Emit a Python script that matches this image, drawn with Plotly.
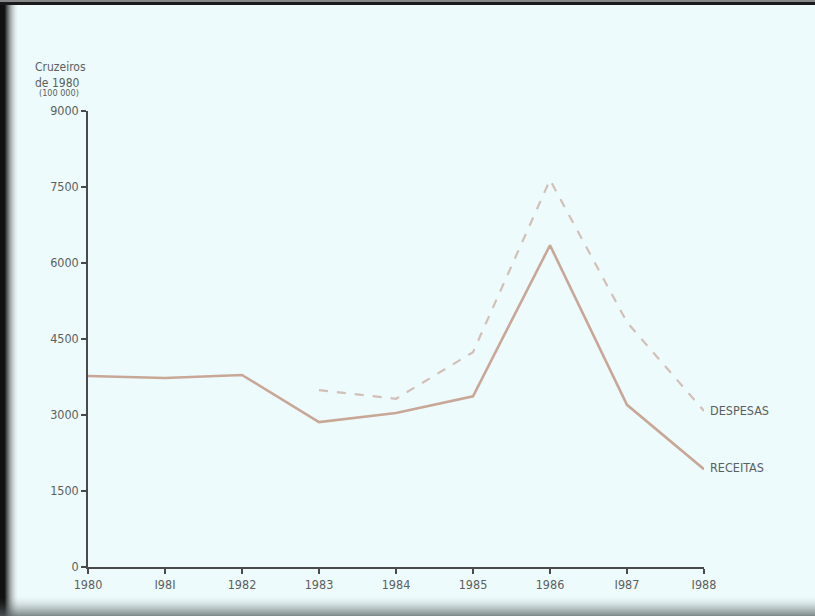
import plotly.graph_objects as go

years = [1980, 1981, 1982, 1983, 1984, 1985, 1986, 1987, 1988]
receitas = [3770, 3730, 3790, 2860, 3040, 3370, 6350, 3200, 1930]
despesas_years = [1983, 1984, 1985, 1986, 1987, 1988]
despesas = [3490, 3320, 4240, 7640, 4830, 3080]
y_ticks = [0, 1500, 3000, 4500, 6000, 7500, 9000]
x_ticks = years
x_labels = ["1980", "I98I", "1982", "1983", "1984", "1985", "1986", "I987", "I988"]

W, H = 815, 616
ML, MR, MT, MB = 88, 111, 111, 49
PW, PH = W - ML - MR, H - MT - MB

def px(x):
    return (x - ML) / PW

def py(y):
    return 1 - (y - MT) / PH

TXT = "#5a5f60"
FONT = "Liberation Sans Narrow, Arial Narrow, DejaVu Sans Condensed, sans-serif"

fig = go.Figure()
fig.add_trace(go.Scatter(x=years, y=receitas, mode="lines",
                         line=dict(color="#c9a797", width=2.6), name="RECEITAS"))
fig.add_trace(go.Scatter(x=despesas_years, y=despesas, mode="lines",
                         line=dict(color="#d3bfb6", width=2.2, dash="dash"), name="DESPESAS"))

shapes = []
# left shadow gradient
for i in range(14):
    g = int(40 + i * 15)
    shapes.append(dict(type="rect", xref="paper", yref="paper",
                       x0=px(5 + i), x1=px(6 + i), y0=py(H), y1=py(0),
                       fillcolor=f"rgba({g},{g+5},{g+5},{max(0.05, 1 - i/14):.2f})",
                       line=dict(width=0), layer="below"))
shapes.append(dict(type="rect", xref="paper", yref="paper",
                   x0=px(0), x1=px(5), y0=py(H), y1=py(0),
                   fillcolor="#111111", line=dict(width=0), layer="below"))
# bottom shadow gradient
for i in range(20):
    a = (i / 20) ** 1.5 * 0.8
    shapes.append(dict(type="rect", xref="paper", yref="paper",
                       x0=px(0), x1=px(W), y0=py(596 + i + 1), y1=py(596 + i),
                       fillcolor=f"rgba(90,100,100,{a:.2f})",
                       line=dict(width=0), layer="below"))
# top border
shapes.append(dict(type="rect", xref="paper", yref="paper",
                   x0=px(0), x1=px(W), y0=py(5), y1=py(0),
                   fillcolor="#1a1a1a", line=dict(width=0), layer="below"))
shapes.append(dict(type="rect", xref="paper", yref="paper",
                   x0=px(0), x1=px(W), y0=py(2), y1=py(0),
                   fillcolor="#888888", line=dict(width=0), layer="below"))

annotations = [
    dict(text="Cruzeiros<br>de 1980", xref="paper", yref="paper",
         x=px(33), y=py(58), xanchor="left", yanchor="top", showarrow=False, align="left",
         font=dict(family=FONT, size=12, color=TXT)),
    dict(text="(100 000)", xref="paper", yref="paper",
         x=px(37), y=py(86), xanchor="left", yanchor="top", showarrow=False, align="left",
         font=dict(family=FONT, size=9, color=TXT)),
    dict(text="DESPESAS", xref="paper", yref="paper",
         x=px(708), y=py(410), xanchor="left", yanchor="middle", showarrow=False,
         font=dict(family=FONT, size=12.5, color=TXT)),
    dict(text="RECEITAS", xref="paper", yref="paper",
         x=px(708), y=py(467), xanchor="left", yanchor="middle", showarrow=False,
         font=dict(family=FONT, size=12.5, color=TXT)),
]

fig.update_layout(
    width=W, height=H, autosize=False,
    margin=dict(l=ML, r=MR, t=MT, b=MB),
    paper_bgcolor="#eefbfc", plot_bgcolor="#eefbfc",
    showlegend=False,
    shapes=shapes, annotations=annotations,
    xaxis=dict(range=[1980, 1988], tickvals=x_ticks, ticktext=x_labels,
               showline=True, linecolor="#4a4a4a", linewidth=1.5,
               ticks="outside", ticklen=5, tickcolor="#4a4a4a", tickwidth=1.5,
               showgrid=False, zeroline=False,
               tickfont=dict(family=FONT, size=12.5, color=TXT)),
    yaxis=dict(range=[0, 9000], tickvals=y_ticks,
               showline=True, linecolor="#4a4a4a", linewidth=1.5,
               ticks="outside", ticklen=5, tickcolor="#4a4a4a", tickwidth=1.5,
               showgrid=False, zeroline=False,
               tickfont=dict(family=FONT, size=12.5, color=TXT)),
)

fig.write_html("out.html", config={"displayModeBar": False},
               post_script="document.body.style.margin='0';document.body.style.overflow='hidden';")
